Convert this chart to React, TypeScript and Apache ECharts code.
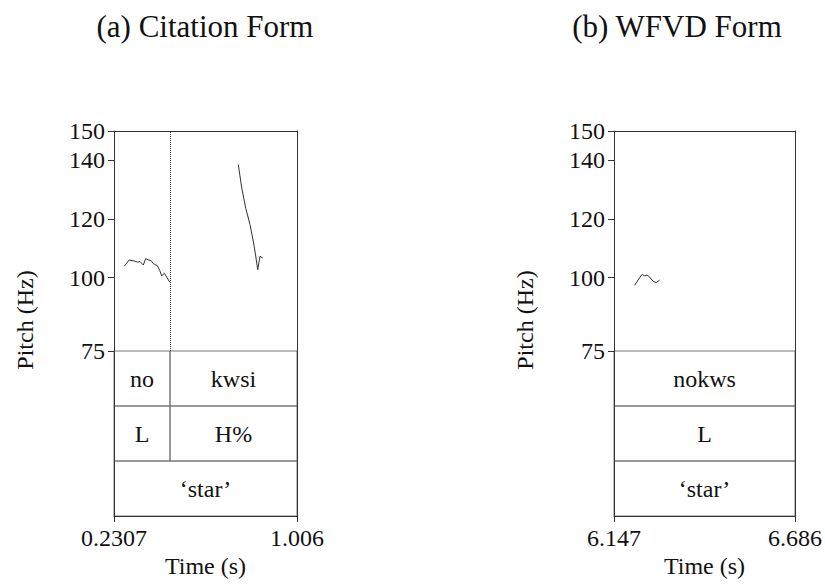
import React, { useEffect, useRef } from "react";
import * as echarts from "echarts";

// ---- data ----
const citTimeRange = [0.2307, 1.006];
const wfvdTimeRange = [6.147, 6.686];
const citTimeLabels = ["0.2307", "1.006"];
const wfvdTimeLabels = ["6.147", "6.686"];
const pitchRange = [75, 150];
const pitchTicks = [75, 100, 120, 140, 150];

const citSeg1Time = [0.2745, 0.2943, 0.3154, 0.331, 0.3409, 0.355, 0.3649, 0.3776, 0.3875, 0.3973, 0.4072, 0.4143, 0.4242, 0.4327, 0.444, 0.4538, 0.4675];
const citSeg1Hz = [103.9, 106.0, 105.7, 105.3, 105.5, 104.3, 106.5, 106.0, 105.8, 104.8, 104.4, 104.1, 102.5, 100.6, 101.5, 100.2, 98.4];
const citSeg2Time = [0.7574, 0.7718, 0.7887, 0.8069, 0.8209, 0.8324, 0.8396, 0.8493, 0.8607];
const citSeg2Hz = [138.5, 130.6, 123.7, 118.1, 112.4, 106.7, 102.7, 107.3, 106.7];
const wfvdTime = [6.2086, 6.2185, 6.2304, 6.2384, 6.2453, 6.2533, 6.2631, 6.273, 6.2831];
const wfvdHz = [97.4, 99.2, 101.1, 100.6, 100.9, 100.2, 98.8, 98.3, 99.2];

const citBoundary = 0.468;

const tierRows = ["words", "tones", "gloss"];
const citTierStart = [0.2307, 0.468, 0.2307, 0.468, 0.2307];
const citTierEnd = [0.468, 1.006, 0.468, 1.006, 1.006];
const citTierRow = [0, 0, 1, 1, 2];
const citTierLabel = ["no", "kwsi", "L", "H%", "\u2018star\u2019"];

const wfvdTierStart = [6.147, 6.147, 6.147];
const wfvdTierEnd = [6.686, 6.686, 6.686];
const wfvdTierRow = [0, 1, 2];
const wfvdTierLabel = ["nokws", "L", "\u2018star\u2019"];

const titles = ["(a) Citation Form", "(b) WFVD Form"];

// ---- styling ----
const FONT = "'Liberation Serif', 'Times New Roman', Times, serif";
const DARK = "#333";
const TXT = "#111";

const zip = (a: number[], b: number[]) => a.map((v, i) => [v, b[i]]);

function tierSeries(xAxisIndex: number, yAxisIndex: number, start: number[], end: number[], row: number[], labels: string[]) {
  return {
    type: "custom",
    xAxisIndex,
    yAxisIndex,
    z: 1,
    silent: true,
    encode: { x: [0, 1], y: 2 },
    data: start.map((s, i) => [s, end[i], row[i]]),
    renderItem: (params: any, api: any) => {
      const s = api.value(0);
      const e = api.value(1);
      const r = api.value(2);
      const p0 = api.coord([s, r]);
      const p1 = api.coord([e, r]);
      const h = api.size([0, 1])[1];
      const label = labels[params.dataIndex];
      return {
        type: "group",
        children: [
          {
            type: "rect",
            shape: { x: p0[0], y: p0[1] - h / 2, width: p1[0] - p0[0], height: h },
            style: { fill: "none", stroke: "#777", lineWidth: 1 },
          },
          {
            type: "text",
            style: {
              text: label,
              x: (p0[0] + p1[0]) / 2,
              y: p0[1],
              align: "center",
              verticalAlign: "middle",
              textAlign: "center",
              textVerticalAlign: "middle",
              fontFamily: FONT,
              fontSize: 24,
              fill: TXT,
            },
          },
        ],
      };
    },
  };
}

function pitchXAxis(gridIndex: number, range: number[]) {
  return {
    type: "value",
    gridIndex,
    min: range[0],
    max: range[1],
    position: "top",
    z: 3,
    axisLine: { show: true, onZero: false, lineStyle: { color: DARK, width: 1 } },
    axisTick: { show: false },
    axisLabel: { show: false },
    splitLine: { show: false },
  };
}

function tierXAxis(gridIndex: number, range: number[], labels: string[]) {
  return {
    type: "value",
    gridIndex,
    min: range[0],
    max: range[1],
    position: "bottom",
    z: 3,
    name: "Time (s)",
    nameLocation: "middle",
    nameGap: 38,
    nameTextStyle: { fontFamily: FONT, fontSize: 24, color: TXT },
    axisLine: { show: true, onZero: false, lineStyle: { color: DARK, width: 1 } },
    axisTick: { show: true, length: 6, customValues: range, lineStyle: { color: DARK } },
    axisLabel: {
      show: true,
      customValues: range,
      showMinLabel: true,
      showMaxLabel: true,
      margin: 10,
      fontFamily: FONT,
      fontSize: 24,
      color: TXT,
      formatter: (v: number) => (Math.abs(v - range[0]) < 1e-9 ? labels[0] : labels[1]),
    },
    splitLine: { show: false },
  };
}

function pitchYAxis(gridIndex: number) {
  return {
    type: "value",
    gridIndex,
    min: pitchRange[0],
    max: pitchRange[1],
    position: "left",
    z: 3,
    axisLine: { show: true, onZero: false, lineStyle: { color: DARK, width: 1 } },
    axisTick: { show: true, length: 6, customValues: pitchTicks, lineStyle: { color: DARK } },
    axisLabel: {
      show: true,
      customValues: pitchTicks,
      margin: 9,
      fontFamily: FONT,
      fontSize: 24,
      color: TXT,
    },
    splitLine: { show: false },
  };
}

function borderYAxis(gridIndex: number) {
  return {
    type: "value",
    gridIndex,
    position: "right",
    z: 3,
    axisLine: { show: true, onZero: false, lineStyle: { color: DARK, width: 1 } },
    axisTick: { show: false },
    axisLabel: { show: false },
    splitLine: { show: false },
  };
}

function tierYAxis(gridIndex: number) {
  return {
    type: "category",
    gridIndex,
    data: tierRows,
    inverse: true,
    position: "left",
    z: 3,
    axisLine: { show: true, onZero: false, lineStyle: { color: DARK, width: 1 } },
    axisTick: { show: false },
    axisLabel: { show: false },
    splitLine: { show: false },
  };
}

const pitchLine = (xAxisIndex: number, yAxisIndex: number, data: number[][], extra: any = {}) => ({
  type: "line",
  xAxisIndex,
  yAxisIndex,
  data,
  showSymbol: false,
  symbol: "none",
  silent: true,
  lineStyle: { color: DARK, width: 1 },
  z: 2,
  ...extra,
});

export default function App() {
  const ref = useRef<HTMLDivElement>(null);
  useEffect(() => {
    if (!ref.current) return;
    const chart = echarts.init(ref.current, undefined, { renderer: "svg" });
    const option: any = {
      animation: false,
      backgroundColor: "#fff",
      textStyle: { fontFamily: FONT },
      grid: [
        { left: 114, top: 131, width: 183, height: 220 },
        { left: 114, top: 351, width: 183, height: 165 },
        { left: 614, top: 131, width: 181, height: 220 },
        { left: 614, top: 351, width: 181, height: 165 },
      ],
      xAxis: [
        pitchXAxis(0, citTimeRange),
        tierXAxis(1, citTimeRange, citTimeLabels),
        pitchXAxis(2, wfvdTimeRange),
        tierXAxis(3, wfvdTimeRange, wfvdTimeLabels),
      ],
      yAxis: [
        pitchYAxis(0),
        borderYAxis(0),
        tierYAxis(1),
        borderYAxis(1),
        pitchYAxis(2),
        borderYAxis(2),
        tierYAxis(3),
        borderYAxis(3),
      ],
      series: [
        pitchLine(0, 0, zip(citSeg1Time, citSeg1Hz), {
          markLine: {
            symbol: "none",
            silent: true,
            label: { show: false },
            lineStyle: { type: "dotted", color: DARK, width: 1 },
            data: [{ xAxis: citBoundary }],
          },
        }),
        pitchLine(0, 0, zip(citSeg2Time, citSeg2Hz)),
        tierSeries(1, 2, citTierStart, citTierEnd, citTierRow, citTierLabel),
        pitchLine(2, 4, zip(wfvdTime, wfvdHz)),
        tierSeries(3, 6, wfvdTierStart, wfvdTierEnd, wfvdTierRow, wfvdTierLabel),
      ],
      graphic: [
        {
          type: "text",
          x: 205,
          y: 26,
          style: { text: titles[0], fontFamily: FONT, fontSize: 31, fill: TXT, align: "center", verticalAlign: "middle" },
        },
        {
          type: "text",
          x: 677,
          y: 26,
          style: { text: titles[1], fontFamily: FONT, fontSize: 31, fill: TXT, align: "center", verticalAlign: "middle" },
        },
        {
          type: "text",
          x: 25,
          y: 320,
          rotation: Math.PI / 2,
          style: { text: "Pitch (Hz)", fontFamily: FONT, fontSize: 24, fill: TXT, align: "center", verticalAlign: "middle" },
        },
        {
          type: "text",
          x: 525,
          y: 320,
          rotation: Math.PI / 2,
          style: { text: "Pitch (Hz)", fontFamily: FONT, fontSize: 24, fill: TXT, align: "center", verticalAlign: "middle" },
        },
      ],
    };
    chart.setOption(option);
    return () => chart.dispose();
  }, []);
  return <div ref={ref} style={{ position: "fixed", left: 0, top: 0, width: 825, height: 586 }} />;
}
